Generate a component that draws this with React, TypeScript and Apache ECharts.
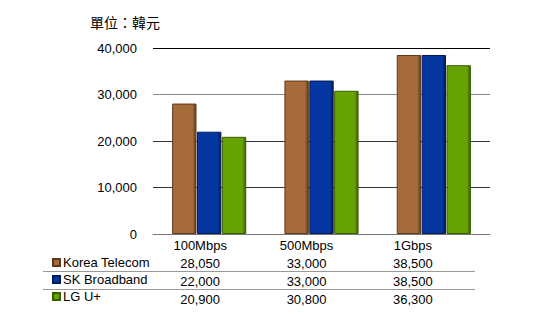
import React, { useEffect, useRef } from "react";
import * as echarts from "echarts";

const categories = ["100Mbps", "500Mbps", "1Gbps"];
const seriesNames = ["Korea Telecom", "SK Broadband", "LG U+"];
const koreaTelecom = [28050, 33000, 38500];
const skBroadband = [22000, 33000, 38500];
const lgUplus = [20900, 30800, 36300];
const yTicks = [0, 10000, 20000, 30000, 40000];
const unitLabel = "單位：韓元";

const colors = ["#A66B3A", "#0537A0", "#67A204"];
const borders = ["#5e3a1c", "#021c5a", "#3a5e02"];

const fmt = (v: number) => v.toLocaleString("en-US");

export default function App() {
  const ref = useRef<HTMLDivElement>(null);
  useEffect(() => {
    if (!ref.current) return;
    const chart = echarts.init(ref.current, undefined, { renderer: "svg" });
    const allSeries = [koreaTelecom, skBroadband, lgUplus];
    const font = "'Liberation Sans', Arial, sans-serif";
    chart.setOption({
      animation: false,
      backgroundColor: "#fff",
      textStyle: { fontFamily: font },
      title: {
        text: unitLabel,
        left: 85,
        top: 10,
        textStyle: {
          fontFamily: "'Noto Sans CJK TC', sans-serif",
          fontSize: 14,
          fontWeight: "normal",
          color: "#000",
        },
      },
      legend: {
        orient: "vertical",
        left: 47,
        top: 251,
        itemWidth: 7,
        itemHeight: 7,
        itemGap: 4,
        icon: "rect",
        selectedMode: false,
        data: seriesNames,
        textStyle: { fontFamily: font, fontSize: 13, color: "#000", padding: [0, 0, 0, -2] },
      },
      grid: [
        { left: 153, right: 57, top: 48, bottom: 80 },
        { left: 147, right: 81, top: 48, bottom: 80 },
      ],
      xAxis: [
        {
          type: "category",
          gridIndex: 0,
          data: categories,
          axisLine: { lineStyle: { color: "#777", width: 1 } },
          axisTick: { show: false },
          axisLabel: { show: false },
        },
        {
          type: "category",
          gridIndex: 1,
          data: categories,
          axisLine: { show: false },
          axisTick: { show: false },
          axisLabel: {
            margin: 2,
            fontFamily: font,
            fontSize: 13,
            color: "#000",
            lineHeight: 18,
            formatter: (_v: string, i: number) =>
              [categories[i], ...allSeries.map((s) => fmt(s[i]))].join("\n"),
          },
        },
      ],
      yAxis: [
        {
          type: "value",
          gridIndex: 0,
          min: yTicks[0],
          max: yTicks[yTicks.length - 1],
          interval: yTicks[1] - yTicks[0],
          axisLine: { show: false },
          axisTick: { show: false },
          axisLabel: {
            margin: 16,
            fontFamily: font,
            fontSize: 13,
            color: "#000",
            formatter: (v: number) => fmt(v),
          },
          splitLine: {
            lineStyle: { color: ["#777", "#333", "#333", "#888", "#000"], width: 1 },
          },
        },
        {
          type: "value",
          gridIndex: 1,
          show: false,
          splitLine: { show: false },
        },
      ],
      graphic: [
        {
          type: "line",
          shape: { x1: 43, y1: 271.5, x2: 475, y2: 271.5 },
          style: { stroke: "#999", lineWidth: 1 },
        },
        {
          type: "line",
          shape: { x1: 43, y1: 289.5, x2: 475, y2: 289.5 },
          style: { stroke: "#999", lineWidth: 1 },
        },
      ],
      series: allSeries.map((data, i) => ({
        name: seriesNames[i],
        type: "bar",
        xAxisIndex: 0,
        yAxisIndex: 0,
        data,
        barGap: "2%",
        barCategoryGap: "34%",
        itemStyle: {
          color: new echarts.graphic.LinearGradient(0, 0, 1, 0, [
            { offset: 0, color: colors[i] },
            { offset: 0.85, color: colors[i] },
            { offset: 1, color: borders[i] },
          ]),
          borderColor: borders[i],
          borderWidth: 1,
        },
      })),
    });
    return () => chart.dispose();
  }, []);
  return <div ref={ref} style={{ width: 547, height: 314, position: "absolute", left: 0, top: 0 }} />;
}
